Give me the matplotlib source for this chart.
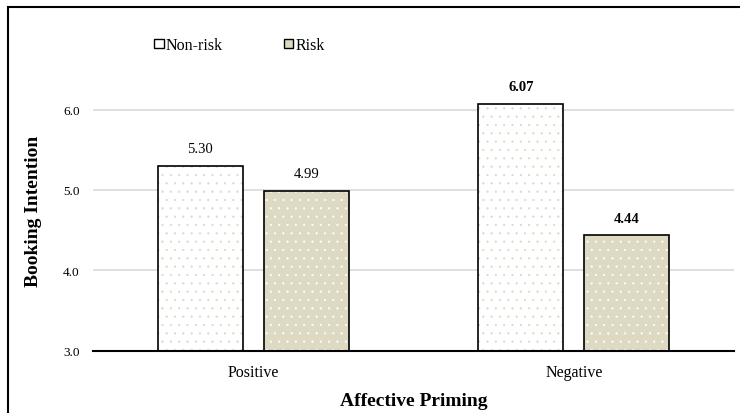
import matplotlib
matplotlib.use("Agg")
from matplotlib import pyplot as plt
from matplotlib.patches import Patch, Rectangle
import numpy as np

categories = ["Positive", "Negative"]
series = ["Non-risk", "Risk"]
non_risk = [5.30, 6.07]
risk = [4.99, 4.44]
bold_labels = [[False, True], [False, True]]

plt.rcParams["font.family"] = ["Liberation Serif", "DejaVu Serif"]
plt.rcParams["hatch.linewidth"] = 0.35

fig = plt.figure(figsize=(7.4, 4.14), dpi=100)
ax = fig.add_axes([0.1257, 0.1498, 0.8663, 0.6805])

pos = np.arange(len(categories))
bar_width = 0.265
gap = 0.066
offsets = [-(bar_width + gap) / 2, (bar_width + gap) / 2]
fills = ["white", "#DDD9C3"]
dots = ["#DCD8C6", "white"]
values = [non_risk, risk]

for k in range(2):
    x = pos + offsets[k]
    # dotted fill first, then black outline on top
    ax.bar(x, values[k], bar_width, bottom=0, color=fills[k], edgecolor=dots[k],
           hatch="..", linewidth=0, zorder=2)
    ax.bar(x, values[k], bar_width, bottom=0, fill=False, edgecolor="black",
           linewidth=1.2, zorder=3)
    for i, v in enumerate(values[k]):
        ax.text(x[i], v + 0.21, "%.2f" % v, ha="center", va="center", fontsize=10.5,
                fontweight="bold" if bold_labels[k][i] else "normal", zorder=4)

ax.set_ylim(3, 6.5)
ax.set_xlim(-0.5, 1.5)
ax.set_yticks([3, 4, 5, 6])
ax.set_yticklabels(["3.0", "4.0", "5.0", "6.0"])
ax.set_xticks(pos)
ax.set_xticklabels(categories)
ax.tick_params(axis="y", length=0, pad=9.5, labelsize=9.5)
ax.tick_params(axis="x", length=0, pad=9.5, labelsize=11.5)
ax.yaxis.grid(True, color="#D9D9D9", linewidth=1.2, zorder=0)
ax.set_axisbelow(True)
for s in ["left", "right", "top"]:
    ax.spines[s].set_visible(False)
ax.spines["bottom"].set_linewidth(1.5)
ax.spines["bottom"].set_zorder(5)

ax.set_ylabel("Booking Intention", fontsize=14, fontweight="bold")
ax.yaxis.set_label_coords(-0.0796, 0.5)
ax.set_xlabel("Affective Priming", fontsize=14, fontweight="bold")
ax.xaxis.set_label_coords(0.5, -0.145)

handles = [Patch(facecolor=fills[k], edgecolor="black", linewidth=1.0) for k in range(2)]
fig.legend(handles, series, loc="center left", bbox_to_anchor=(0.208, 0.889),
           ncol=2, frameon=False, fontsize=11.5, handlelength=0.6, handleheight=0.45,
           handletextpad=0.15, columnspacing=3.8, borderpad=0, borderaxespad=0)

fig.patches.append(Rectangle((8 / 740, -0.1), 1.2, 1.1 - 8 / 414, fill=False,
                             edgecolor="black", linewidth=1.5, transform=fig.transFigure))

fig.savefig("out.png", dpi=100)
